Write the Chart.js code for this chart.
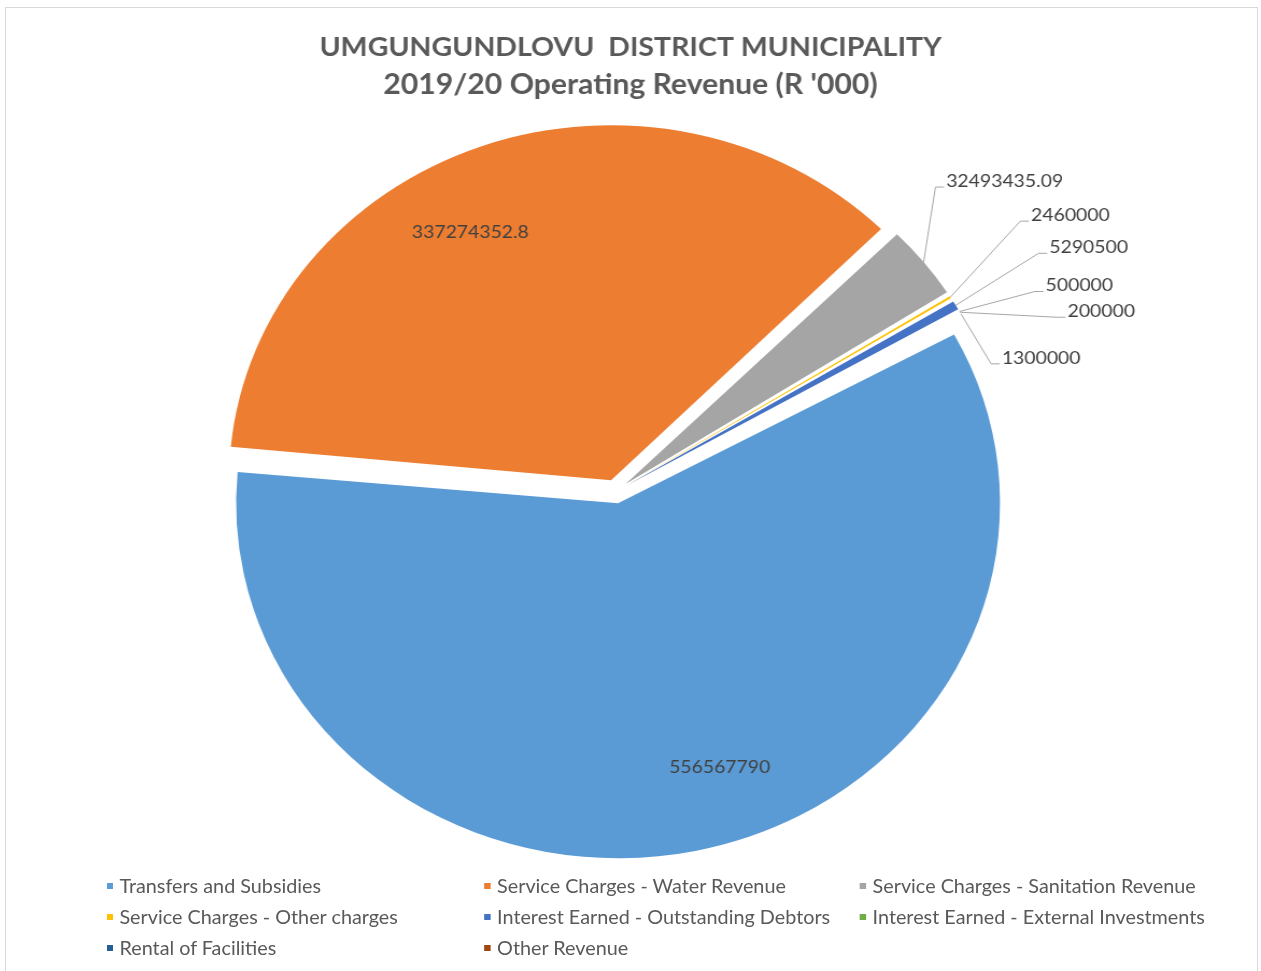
<!DOCTYPE html>
<html>
<head>
<meta charset="utf-8">
<title>uMgungundlovu 2019/20 Operating Revenue</title>
<script src="https://cdn.jsdelivr.net/npm/chart.js@4.4.1/dist/chart.umd.min.js"></script>
<style>
  html, body { margin: 0; padding: 0; background: #fff; }
  body { width: 1261px; height: 971px; position: relative; overflow: hidden; font-family: Lato, "Open Sans", sans-serif; }
  #frame { position: absolute; left: 5px; top: 7px; right: 3px; bottom: -2px; border: 1px solid #d9d9d9; }
  /* the original picture is stretched sideways a little, so the canvas and legend are too */
  #stage { position: absolute; left: 0; top: 0; width: 1172px; height: 971px; transform: scaleX(1.07594); transform-origin: 0 0; }
  #legend { position: absolute; left: 99px; top: 870px; display: grid; grid-template-columns: 351px 349px auto; grid-auto-rows: 31px; color: #595959; font-size: 18.4px; }
  .item { display: flex; align-items: center; white-space: nowrap; }
  .item i { width: 6px; height: 6px; margin-right: 6px; display: inline-block; }
</style>
</head>
<body>
<div id="frame"></div>
<div id="stage">
  <canvas id="revenueChart"></canvas>
  <div id="legend"></div>
</div>
<script>
const categories = [
  "Transfers and Subsidies",
  "Service Charges - Water Revenue",
  "Service Charges - Sanitation Revenue",
  "Service Charges - Other charges",
  "Interest Earned - Outstanding Debtors",
  "Interest Earned - External Investments",
  "Rental of Facilities",
  "Other Revenue",
];
const values = [556567790, 337274352.8, 32493435.09, 2460000, 5290500, 500000, 200000, 1300000];
const colors = ["#5b9bd5", "#ed7d31", "#a5a5a5", "#ffc000", "#4472c4", "#70ad47", "#255e91", "#9e480e"];
const titleText = "UMGUNGUNDLOVU  DISTRICT MUNICIPALITY";
const subtitleText = "2019/20 Operating Revenue (R '000)";

const PIE_RADIUS = 355;
const PIE_SHIFT_LEFT = 14; // pie sits a bit left of the title's centre
const EXPLODE = 48; // chart.js moves a slice by offset / 4
const INSIDE_ANGLE_SHIFT = -8 * Math.PI / 180;
// where the outside labels sit, relative to the edge of their slice (null = label inside)
const calloutShift = [null, null, [21, -75], [75, -76], [87, -52], [80, -20], [100, 5], [38, 50]];

const valueLabels = {
  id: "valueLabels",
  afterLayout(chart) {
    const area = chart.chartArea;
    area.right -= PIE_SHIFT_LEFT * 2;
    area.width = area.right - area.left;
  },
  beforeDatasetsDraw(chart) {
    // chart.js also grows the radius of an offset slice; undo that so all slices match
    chart.getDatasetMeta(0).data.forEach((arc) => {
      const t = (arc.options.offset || 0) / 4;
      const fix = 1 - Math.sin(Math.min(Math.PI, arc.circumference || 0));
      arc.outerRadius = PIE_RADIUS - t * fix;
    });
  },
  afterDatasetsDraw(chart) {
    const ctx = chart.ctx;
    const meta = chart.getDatasetMeta(0);
    ctx.save();
    ctx.font = "18px Lato";
    ctx.fillStyle = "#404040";
    ctx.strokeStyle = "#a6a6a6";
    ctx.lineWidth = 1;
    meta.data.forEach((arc, i) => {
      const t = (arc.options.offset || 0) / 4;
      const mid = (arc.startAngle + arc.endAngle) / 2;
      const cx = arc.x + Math.cos(mid) * t;
      const cy = arc.y + Math.sin(mid) * t;
      const text = String(values[i]);
      const shift = calloutShift[i];
      if (!shift) {
        const a = mid + INSIDE_ANGLE_SHIFT;
        ctx.textAlign = "center";
        ctx.textBaseline = "middle";
        ctx.fillText(text, cx + Math.cos(a) * PIE_RADIUS * 0.79, cy + Math.sin(a) * PIE_RADIUS * 0.79);
        return;
      }
      const ax = cx + Math.cos(mid) * PIE_RADIUS;
      const ay = cy + Math.sin(mid) * PIE_RADIUS;
      const lx = ax + shift[0];
      const ly = ay + shift[1];
      ctx.beginPath();
      ctx.moveTo(ax, ay);
      ctx.lineTo(lx - 10, ly);
      ctx.lineTo(lx - 2, ly);
      ctx.stroke();
      ctx.textAlign = "left";
      ctx.textBaseline = "alphabetic";
      ctx.fillText(text, lx, ly);
    });
    ctx.restore();
  },
};

const chart = new Chart(document.getElementById("revenueChart"), {
  type: "pie",
  data: {
    labels: categories,
    datasets: [{
      data: values,
      backgroundColor: colors,
      borderWidth: 0,
      hoverBorderWidth: 0,
      offset: EXPLODE,
      hoverOffset: EXPLODE,
    }],
  },
  options: {
    responsive: true,
    maintainAspectRatio: false,
    animation: false,
    events: [],
    rotation: 61.3,
    radius: PIE_RADIUS,
    layout: { padding: { left: 0, right: 0, top: 0, bottom: 92 } },
    plugins: {
      legend: { display: false },
      tooltip: { enabled: false },
      title: {
        display: true,
        text: titleText,
        color: "#595959",
        font: { family: "Lato", size: 26.5, weight: "bold", lineHeight: "38px" },
        padding: { top: 28, bottom: 0 },
      },
      subtitle: {
        display: true,
        text: subtitleText,
        color: "#595959",
        font: { family: "Lato", size: 28, weight: "bold", lineHeight: "38px" },
        padding: { top: 0, bottom: 0 },
      },
    },
  },
  plugins: [valueLabels],
});

// legend in three columns, like the original
const legendEl = document.getElementById("legend");
categories.forEach((name, i) => {
  const div = document.createElement("div");
  div.className = "item";
  div.innerHTML = `<i style="background:${colors[i]}"></i><span>${name}</span>`;
  legendEl.appendChild(div);
});
</script>
</body>
</html>
